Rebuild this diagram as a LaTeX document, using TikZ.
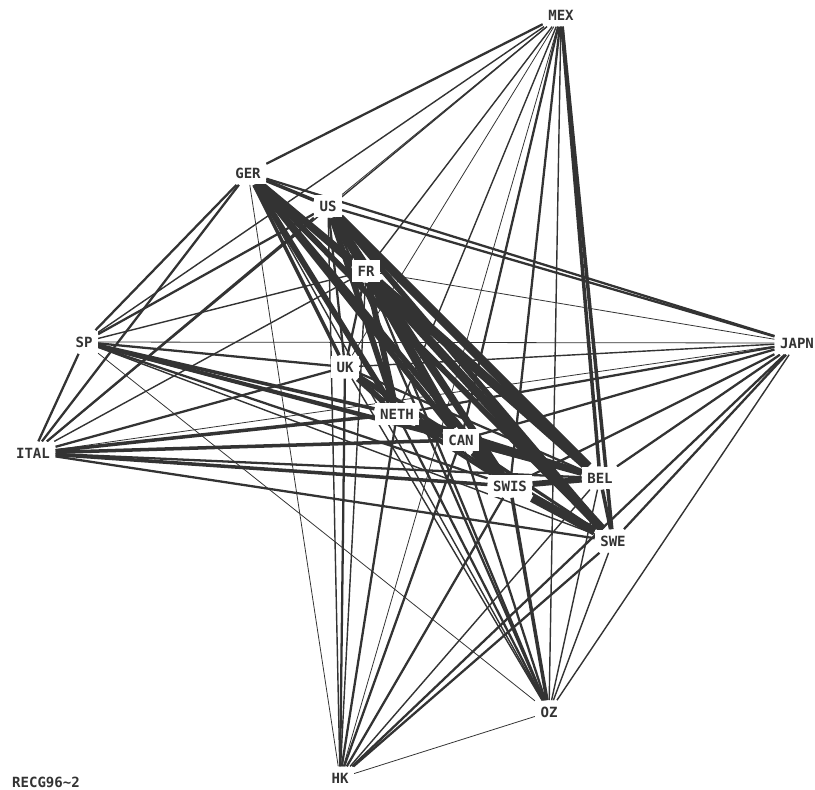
\documentclass[tikz,border=0pt]{standalone}
\usepackage{fontspec}
\setmonofont{DejaVu Sans Mono}
\usepackage{xcolor}
\usepackage{tikz}
\usetikzlibrary{backgrounds}
\definecolor{Ink}{HTML}{333333}
\tikzset{
  country/.style={fill=white,inner xsep=3pt,inner ysep=3.5pt,text=Ink,font=\ttfamily\bfseries\fontsize{8}{8}\selectfont},
  wa/.style={Ink,line width=0.45pt},
  wb/.style={Ink,line width=0.8pt},
  wc/.style={Ink,line width=1.3pt},
  wd/.style={Ink,line width=2pt},
  we/.style={Ink,line width=3.3pt},
  wf/.style={Ink,line width=5pt}
}

\begin{document}
\begin{tikzpicture}[x=0.02cm,y=-0.02cm]
  \useasboundingbox (0,0) rectangle (815,789);
  % countries
  \node[country] (mex)  at (561,15)  {MEX};
  \node[country] (ger)  at (248,173) {GER};
  \node[country] (us)   at (328,206) {US};
  \node[country] (fr)   at (366,271) {FR};
  \node[country] (sp)   at (84,342)  {SP};
  \node[country] (japn) at (797,343) {JAPN};
  \node[country] (uk)   at (345,367) {UK};
  \node[country] (neth) at (397,414) {NETH};
  \node[country] (ital) at (33,453)  {ITAL};
  \node[country] (can)  at (461,440) {CAN};
  \node[country] (swis) at (510,486) {SWIS};
  \node[country] (bel)  at (600,478) {BEL};
  \node[country] (swe)  at (613,541) {SWE};
  \node[country] (oz)   at (549,712) {OZ};
  \node[country] (hk)   at (340,778) {HK};
  \node[text=Ink,font=\ttfamily\bfseries\fontsize{8}{8}\selectfont] (title) at (46,782) {RECG96\textasciitilde2};
  % links, thin to heavy, under the labels
  \begin{pgfonlayer}{background}
  \foreach \a/\b in {mex/us,mex/uk,mex/hk,fr/japn,sp/japn,sp/oz,ital/japn,hk/oz,ger/hk}
  {
    \draw[wa] (\a) -- (\b);
  }
  \foreach \a/\b in {mex/fr,mex/sp,mex/ital,mex/neth,mex/oz,ger/oz,us/hk,fr/sp,fr/ital,fr/hk,
    uk/japn,uk/oz,bel/hk,bel/oz,swe/sp,swe/oz,japn/oz}
  {
    \draw[wb] (\a) -- (\b);
  }
  \foreach \a/\b in {mex/ger,mex/can,mex/swis,ger/japn,ger/sp,ger/ital,us/uk,us/sp,us/ital,us/japn,us/oz,
    fr/uk,fr/oz,uk/swis,uk/bel,uk/swe,uk/sp,uk/ital,uk/hk,neth/swe,neth/japn,neth/hk,neth/oz,
    can/swe,can/japn,can/hk,can/oz,swis/sp,swis/japn,swis/hk,bel/ital,bel/japn,swe/ital,swe/japn,
    swe/hk,sp/ital,japn/hk}
  {
    \draw[wc] (\a) -- (\b);
  }
  \foreach \a/\b in {mex/bel,mex/swe,ger/us,ger/uk,uk/can,neth/swis,neth/sp,neth/ital,can/sp,can/ital,
    swis/ital,swis/oz,bel/swe,bel/sp}
  {
    \draw[wd] (\a) -- (\b);
  }
  \foreach \a/\b in {ger/fr,ger/neth,ger/can,ger/swis,ger/bel,ger/swe,us/neth,us/can,us/swis,us/swe,
    fr/neth,fr/swis,uk/neth,neth/bel,can/bel,swis/bel}
  {
    \draw[we] (\a) -- (\b);
  }
  \foreach \a/\b in {us/fr,us/bel,fr/can,fr/bel,fr/swe,neth/can,can/swis,swis/swe}
  {
    \draw[wf] (\a) -- (\b);
  }
  \end{pgfonlayer}
\end{tikzpicture}
\end{document}
